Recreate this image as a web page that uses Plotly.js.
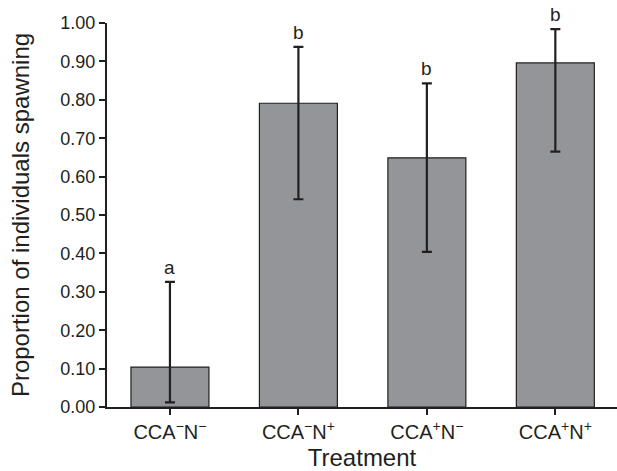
<!DOCTYPE html>
<html>
<head>
<meta charset="utf-8">
<script src="https://cdn.plot.ly/plotly-3.0.1.min.js"></script>
<style>html,body{margin:0;padding:0;background:#fff;}#chart{width:617px;height:471px;}</style>
</head>
<body>
<div id="chart"></div>
<script>
const categories = ["CCA<sup>−</sup>N<sup>−</sup>", "CCA<sup>−</sup>N<sup>+</sup>", "CCA<sup>+</sup>N<sup>−</sup>", "CCA<sup>+</sup>N<sup>+</sup>"];
const proportions = [0.104, 0.791, 0.649, 0.896];
const upperCI = [0.326, 0.938, 0.843, 0.984];
const lowerCI = [0.012, 0.541, 0.404, 0.665];
const groupLetters = ["a", "b", "b", "b"];
const yTickVals = [0, 0.1, 0.2, 0.3, 0.4, 0.5, 0.6, 0.7, 0.8, 0.9, 1.0];
const yTickText = ["0.00", "0.10", "0.20", "0.30", "0.40", "0.50", "0.60", "0.70", "0.80", "0.90", "1.00"];

const xIdx = categories.map((c, i) => i);
const ink = "#231f20";
const font = "Liberation Sans, Arial, Helvetica, sans-serif";

const trace = {
  type: "bar",
  x: xIdx,
  y: proportions,
  width: 0.607,
  marker: {color: "#939598", line: {color: ink, width: 1.2}},
  error_y: {
    type: "data",
    symmetric: false,
    array: upperCI.map((u, i) => u - proportions[i]),
    arrayminus: lowerCI.map((l, i) => proportions[i] - l),
    color: ink,
    thickness: 2.2,
    width: 5
  },
  hoverinfo: "none"
};

const annotations = groupLetters.map((t, i) => ({
  x: i, y: upperCI[i], xref: "x", yref: "y",
  text: t, showarrow: false, yanchor: "bottom", yshift: 2,
  font: {family: font, size: 19, color: ink}
}));

const layout = {
  width: 617, height: 471,
  margin: {l: 107, r: 0, t: 23, b: 64},
  paper_bgcolor: "#fff", plot_bgcolor: "#fff",
  showlegend: false,
  font: {family: font, color: ink},
  xaxis: {
    range: [-0.49, 3.48],
    tickvals: xIdx, ticktext: categories,
    tickson: "boundaries",
    ticks: "outside", ticklen: 6, tickwidth: 2, tickcolor: ink,
    showline: true, linecolor: ink, linewidth: 2,
    showgrid: false, zeroline: false,
    tickfont: {family: font, size: 20, color: ink},
    title: {text: "Treatment", font: {family: font, size: 24, color: ink}, standoff: 9}
  },
  yaxis: {
    range: [0, 1.0],
    tickvals: yTickVals, ticktext: yTickText,
    ticks: "outside", ticklen: 6, tickwidth: 2, tickcolor: ink,
    showline: true, linecolor: ink, linewidth: 2,
    showgrid: false, zeroline: false,
    tickfont: {family: font, size: 18, color: ink},
    title: {text: "Proportion of individuals spawning", font: {family: font, size: 24, color: ink}, standoff: 24}
  },
  annotations: annotations
};

Plotly.newPlot("chart", [trace], layout, {displayModeBar: false, staticPlot: true});
</script>
</body>
</html>
